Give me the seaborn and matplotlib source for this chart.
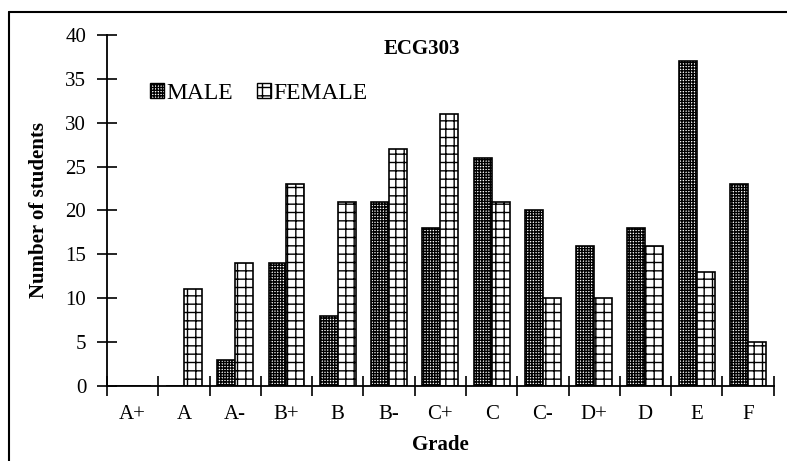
import matplotlib
matplotlib.use("Agg")
import matplotlib.pyplot as plt
import numpy as np
import pandas as pd
import seaborn as sns
from matplotlib.lines import Line2D
from matplotlib.patches import Patch

grades = ["A+", "A", "A-", "B+", "B", "B-", "C+", "C", "C-", "D+", "D", "E", "F"]
male = [0, 0, 3, 14, 8, 21, 18, 26, 20, 16, 18, 37, 23]
female = [0, 11, 14, 23, 21, 27, 31, 21, 10, 10, 16, 13, 5]
series = ["MALE", "FEMALE"]
hatches = ["++++++", "++"]

df = pd.DataFrame({
    "Grade": grades * 2,
    "count": male + female,
    "sex": ["MALE"] * len(grades) + ["FEMALE"] * len(grades),
})

sns.set_style("white")
plt.rcParams["font.family"] = ["Liberation Serif", "DejaVu Serif"]
plt.rcParams["hatch.linewidth"] = 1.0
for k in ["text.color", "axes.labelcolor", "xtick.color", "ytick.color", "axes.edgecolor"]:
    plt.rcParams[k] = "black"

fig = plt.figure(figsize=(7.87, 4.61), dpi=100)
ax = fig.add_axes([0.136, 0.163, 0.847, 0.761])

sns.barplot(data=df, x="Grade", y="count", hue="sex", order=grades,
            hue_order=series, width=0.7, palette=["white", "white"],
            edgecolor="black", linewidth=1.2, ax=ax, legend=False)

# hatches: dense grid for male, open grid for female
for cont, h in zip(ax.containers, hatches):
    for p in cont:
        p.set_hatch(h)
        p.set_edgecolor("black")

ax.set_xlim(-0.5, len(grades) - 0.5)
ax.set_ylim(0, 40)
ax.set_yticks(np.arange(0, 41, 5))
ax.set_xticks(np.arange(-0.5, len(grades), 1.0), minor=True)
ax.tick_params(axis="x", which="major", length=0, labelsize=15, pad=14)
ax.tick_params(axis="x", which="minor", length=14, width=1.2, direction="inout")
ax.tick_params(axis="y", length=14, width=1.2, direction="inout", labelsize=15, pad=8)
ax.tick_params(left=True, bottom=True, which="both")

for s in ["top", "right"]:
    ax.spines[s].set_visible(False)
for s in ["left", "bottom"]:
    ax.spines[s].set_linewidth(1.3)

ax.set_xlabel("Grade", fontsize=15, fontweight="bold", labelpad=8)
ax.set_ylabel("Number of students", fontsize=15, fontweight="bold", labelpad=12)
ax.text(0.472, 0.99, "ECG303", transform=ax.transAxes, ha="center", va="top",
        fontsize=15, fontweight="bold")

handles = [Patch(facecolor="white", edgecolor="black", hatch=h, label=s)
           for s, h in zip(series, hatches)]
ax.legend(handles=handles, loc="upper left", bbox_to_anchor=(0.05, 0.89), ncol=2,
          frameon=False, fontsize=17, handlelength=0.6, handleheight=0.6,
          handletextpad=0.1, columnspacing=1.0, borderaxespad=0)

# figure border (top and left visible in the original)
fig.add_artist(Line2D([9 / 787, 1.0], [1 - 12 / 461, 1 - 12 / 461], transform=fig.transFigure,
                      color="black", linewidth=1.5))
fig.add_artist(Line2D([9 / 787, 9 / 787], [0, 1 - 12 / 461], transform=fig.transFigure,
                      color="black", linewidth=1.5))

fig.savefig("out.png", dpi=100)
